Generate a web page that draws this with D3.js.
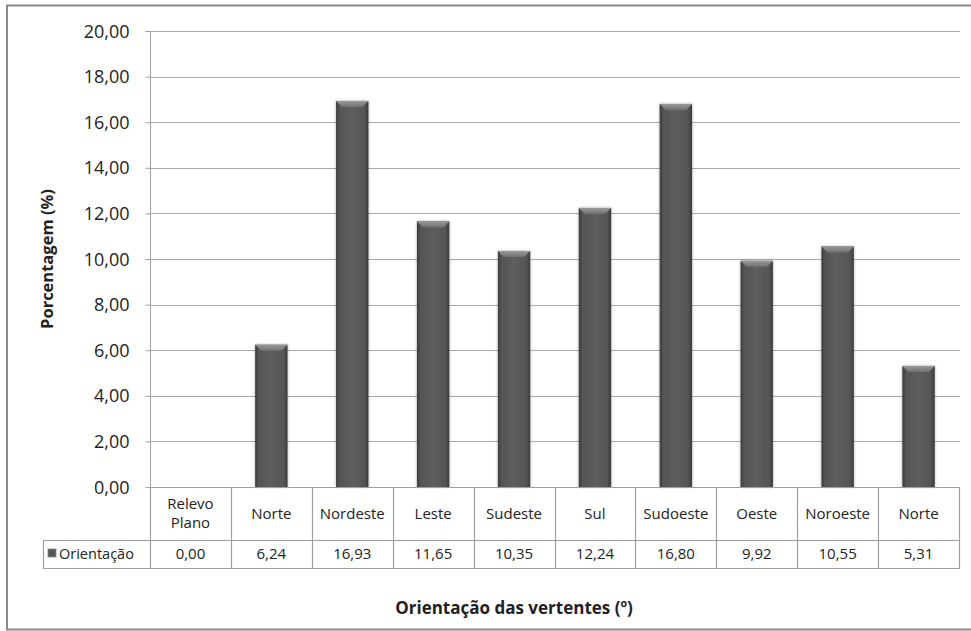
<!DOCTYPE html>
<html><head><meta charset="utf-8">
<script src="https://cdn.jsdelivr.net/npm/d3@7"></script>
<style>body{margin:0;background:#fff}svg{display:block}text{font-family:"Open Sans",sans-serif;fill:#222}</style>
</head><body>
<svg id="c" width="971" height="631"></svg>
<script>
const categories = [["Relevo","Plano"],["Norte"],["Nordeste"],["Leste"],["Sudeste"],["Sul"],["Sudoeste"],["Oeste"],["Noroeste"],["Norte"]];
const values = [0.00, 6.24, 16.93, 11.65, 10.35, 12.24, 16.80, 9.92, 10.55, 5.31];
const yTicks = [0,2,4,6,8,10,12,14,16,18,20];
const seriesName = "Orientação";
const yTitle = "Porcentagem (%)";
const xTitle = "Orientação das vertentes (º)";

const loc = d3.formatLocale({decimal:",", thousands:".", grouping:[3], currency:["R$",""]});
const fmt = loc.format(".2f");

const svg = d3.select("#c");
const L=150, R=959, T=31, B=487, row1=540, row2=568, legL=43;
const x = d3.scaleBand().domain(d3.range(categories.length)).range([L,R]).padding(0);
const y = d3.scaleLinear().domain([0,20]).range([B,T]);

const defs = svg.append("defs");
const g1 = defs.append("linearGradient").attr("id","barg").attr("x1","0").attr("x2","1").attr("y1","0").attr("y2","0");
[["0","#3c3c3c"],["0.12","#555"],["0.5","#5e5e5e"],["0.88","#555"],["1","#3a3a3a"]].forEach(s=>g1.append("stop").attr("offset",s[0]).attr("stop-color",s[1]));
const g2 = defs.append("linearGradient").attr("id","topg").attr("x1","0").attr("x2","0").attr("y1","0").attr("y2","1");
[["0","#9a9a9a"],["1","#707070"]].forEach(s=>g2.append("stop").attr("offset",s[0]).attr("stop-color",s[1]));
const f = defs.append("filter").attr("id","sh").attr("x","-30%").attr("y","-10%").attr("width","160%").attr("height","120%");
f.append("feGaussianBlur").attr("in","SourceAlpha").attr("stdDeviation","1.6").attr("result","b");
f.append("feComponentTransfer").attr("in","b").attr("result","o2").append("feFuncA").attr("type","linear").attr("slope","0.35");
const fm=f.append("feMerge"); fm.append("feMergeNode").attr("in","o2"); fm.append("feMergeNode").attr("in","SourceGraphic");

// outer border
svg.append("rect").attr("x",7).attr("y",5.5).attr("width",1000).attr("height",624).attr("fill","none").attr("stroke","#8a8a8a").attr("stroke-width",2);

// gridlines
svg.append("g").selectAll("line").data(yTicks.filter(d=>d>0)).join("line")
  .attr("x1",L).attr("x2",R+1).attr("y1",d=>Math.round(y(d))+0.5).attr("y2",d=>Math.round(y(d))+0.5)
  .attr("stroke","#a8a8a8").attr("stroke-width",1.2);

// y axis
const ya = svg.append("g").attr("transform",`translate(${L+0.5},0)`)
  .call(d3.axisLeft(y).tickValues(yTicks).tickFormat(fmt).tickSize(5).tickPadding(16));
ya.select(".domain").attr("stroke","#a0a0a0").attr("d",`M-0,${T}V${row2}`);
ya.selectAll(".tick line").attr("stroke","#a0a0a0");
ya.selectAll(".tick text").attr("font-size",18).attr("font-family","Open Sans").attr("fill","#222").attr("dy","0.34em");

// bars
const bw = x.bandwidth()*0.40;
const bg = svg.append("g");
values.forEach((v,i)=>{
  if(v<=0) return;
  const cx = x(i)+x.bandwidth()/2, x0=cx-bw/2, yt=y(v);
  bg.append("rect").attr("x",x0).attr("y",yt).attr("width",bw).attr("height",B-yt).attr("fill","url(#barg)").attr("filter","url(#sh)");
  bg.append("path").attr("d",`M${x0},${yt}H${x0+bw}L${x0+bw-6},${yt+6}H${x0+6}Z`).attr("fill","url(#topg)");
});

// table
const tb = svg.append("g").attr("stroke","#a0a0a0").attr("stroke-width",1.2);
tb.append("line").attr("x1",L).attr("x2",R+1).attr("y1",B+0.5).attr("y2",B+0.5);
tb.append("line").attr("x1",legL).attr("x2",R+1).attr("y1",row1+0.5).attr("y2",row1+0.5);
tb.append("line").attr("x1",legL).attr("x2",R+1).attr("y1",row2+0.5).attr("y2",row2+0.5);
tb.append("line").attr("x1",legL+0.5).attr("x2",legL+0.5).attr("y1",row1).attr("y2",row2);
d3.range(categories.length+1).forEach(i=>{
  const xx = i<categories.length? x(i): R;
  tb.append("line").attr("x1",Math.round(xx)+0.5).attr("x2",Math.round(xx)+0.5).attr("y1",B).attr("y2",row2);
});
const tt = svg.append("g");
categories.forEach((c,i)=>{
  const cx = x(i)+x.bandwidth()/2;
  const t = tt.append("text").attr("x",cx).attr("text-anchor","middle").attr("font-size",15);
  if(c.length===2){
    t.append("tspan").attr("x",cx).attr("y",509).text(c[0]);
    t.append("tspan").attr("x",cx).attr("y",528).text(c[1]);
  } else t.attr("y",519).text(c[0]);
  tt.append("text").attr("x",cx).attr("y",559).attr("text-anchor","middle").attr("font-size",15).text(fmt(values[i]));
});
svg.append("rect").attr("x",48).attr("y",549).attr("width",8).attr("height",8).attr("fill","#555").attr("stroke","#888").attr("stroke-width",0.8);
tt.append("text").attr("x",59).attr("y",559).attr("font-size",14.5).text(seriesName);

// titles
svg.append("text").attr("transform",`translate(53,${(T+B)/2}) rotate(-90)`).attr("text-anchor","middle")
  .attr("font-size",16.5).attr("font-weight","bold").attr("fill","#111").text(yTitle);
svg.append("text").attr("x",514).attr("y",614).attr("text-anchor","middle")
  .attr("font-size",17).attr("font-weight","bold").attr("fill","#111").text(xTitle);
</script>
</body></html>
